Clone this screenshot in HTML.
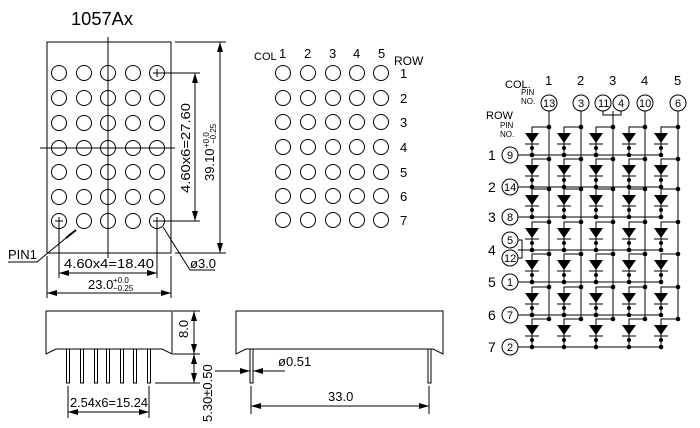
<!DOCTYPE html>
<html><head><meta charset="utf-8"><style>
html,body{margin:0;padding:0;background:#fff;}
svg{display:block;}
text{font-family:"Liberation Sans",sans-serif;fill:#000;}
</style></head><body>
<svg id="s" width="700" height="428" viewBox="0 0 700 428" xmlns="http://www.w3.org/2000/svg" stroke="#000" fill="none" stroke-width="1">
<defs>
<marker id="a" viewBox="0 0 10 6" refX="10" refY="3" markerWidth="10" markerHeight="6" orient="auto-start-reverse" markerUnits="userSpaceOnUse"><path d="M0,0 L10,3 L0,6z" fill="#000" stroke="none"/></marker>
</defs>
<g id="g"></g>
<!-- front view -->
<rect x="47" y="42" width="124" height="211"/>
<line x1="108" y1="37" x2="108" y2="258"/>
<line x1="40" y1="148" x2="175" y2="148"/>
<line x1="160" y1="73" x2="200" y2="73"/><line x1="160" y1="221" x2="200" y2="221"/>
<line x1="195" y1="73" x2="195" y2="221" marker-start="url(#a)" marker-end="url(#a)"/>
<line x1="175" y1="42" x2="226" y2="42"/><line x1="175" y1="253" x2="226" y2="253"/>
<line x1="220" y1="42" x2="220" y2="253" marker-start="url(#a)" marker-end="url(#a)"/>
<line x1="59" y1="225" x2="59" y2="278"/><line x1="157" y1="225" x2="157" y2="278"/>
<line x1="59" y1="273" x2="157" y2="273" marker-start="url(#a)" marker-end="url(#a)"/>
<line x1="47" y1="256" x2="47" y2="298"/><line x1="171" y1="256" x2="171" y2="298"/>
<line x1="47" y1="293" x2="171" y2="293" marker-start="url(#a)" marker-end="url(#a)"/>
<polyline points="8,262 37,262 72,233"/>
<line x1="66" y1="238" x2="76" y2="230" stroke-width="2"/>
<polyline points="163,227 190,270 215,270"/>
<g stroke="none" font-size="12">
<text x="71" y="25" font-size="18" textLength="62" lengthAdjust="spacingAndGlyphs">1057Ax</text>
<text x="64" y="268" font-size="13" textLength="90" lengthAdjust="spacingAndGlyphs">4.60x4=18.40</text>
<text x="88" y="289" font-size="13">23.0</text><text x="113" y="283" font-size="8">+0.0</text><text x="113" y="291" font-size="8">−0.25</text>
<text x="8" y="259" font-size="13">PIN1</text>
<text x="190" y="268" font-size="13">ø3.0</text>
<text transform="translate(190,193) rotate(-90)" font-size="13" textLength="90" lengthAdjust="spacingAndGlyphs">4.60x6=27.60</text>
<text transform="translate(214,181) rotate(-90)" font-size="13">39.10</text>
<text transform="translate(209,148) rotate(-90)" font-size="8">+0.0</text>
<text transform="translate(216,144) rotate(-90)" font-size="8">−0.25</text>
<!-- middle -->
<text x="254" y="60" font-size="11">COL</text>
<text x="279" y="58" font-size="13">1</text><text x="304" y="58" font-size="13">2</text><text x="329" y="58" font-size="13">3</text><text x="353" y="58" font-size="13">4</text><text x="378" y="58" font-size="13">5</text>
<text x="394" y="65" font-size="12">ROW</text>
<g font-size="13">
<text x="400" y="78">1</text><text x="400" y="103">2</text><text x="400" y="127">3</text><text x="400" y="152">4</text><text x="400" y="177">5</text><text x="400" y="201">6</text><text x="400" y="225">7</text>
</g>
<!-- schematic labels -->
<text x="505" y="88" font-size="11">COL.</text>
<text x="521" y="95" font-size="8">PIN</text><text x="521" y="104" font-size="8">NO.</text>
<g font-size="13">
<text x="545" y="85">1</text><text x="577" y="85">2</text><text x="609" y="85">3</text><text x="641" y="85">4</text><text x="674" y="85">5</text>
</g>
<text x="486" y="119" font-size="11">ROW</text>
<text x="500" y="128" font-size="8">PIN</text><text x="500" y="137" font-size="8">NO.</text>
<g font-size="14">
<text x="488" y="160">1</text><text x="488" y="192">2</text><text x="488" y="222">3</text><text x="488" y="255">4</text><text x="488" y="287">5</text><text x="488" y="320">6</text><text x="488" y="352">7</text>
</g>
<g font-size="11">
<text x="543" y="107">13</text><text x="578" y="107">3</text><text x="598" y="107">11</text><text x="618" y="107">4</text><text x="639" y="107">10</text><text x="675" y="107">6</text>
<text x="507" y="159">9</text><text x="504" y="191">14</text><text x="507" y="221">8</text><text x="507" y="244">5</text><text x="504" y="262">12</text><text x="507" y="286">1</text><text x="507" y="319">7</text><text x="507" y="351">2</text>
</g>
<!-- bottom -->
<text transform="translate(188,338) rotate(-90)" font-size="13">8.0</text>
<text transform="translate(212,422) rotate(-90)" font-size="13">5.30±0.50</text>
<text x="70" y="407" font-size="13" textLength="78" lengthAdjust="spacingAndGlyphs">2.54x6=15.24</text>
<text x="278" y="366" font-size="13">ø0.51</text>
<text x="328" y="401" font-size="13">33.0</text>
</g>
<!-- side views -->
<path d="M46,311 H172 V354 L162,349 H56 L46,354 Z"/>
<line x1="173" y1="311" x2="200" y2="311"/><line x1="173" y1="354" x2="200" y2="354"/>
<line x1="194" y1="311" x2="194" y2="354" marker-start="url(#a)" marker-end="url(#a)"/>
<line x1="155" y1="383" x2="200" y2="383"/>
<line x1="194" y1="354" x2="194" y2="383" marker-start="url(#a)" marker-end="url(#a)"/>
<line x1="68" y1="386" x2="68" y2="418"/><line x1="149" y1="386" x2="149" y2="418"/>
<line x1="68" y1="412" x2="149" y2="412" marker-start="url(#a)" marker-end="url(#a)"/>
<path d="M236,311 H443 V354 L433,349 H246 L236,354 Z"/>
<rect x="250" y="349" width="3" height="34"/><rect x="428" y="349" width="3" height="34"/>
<line x1="215" y1="371" x2="250" y2="371" marker-end="url(#a)"/>
<line x1="253" y1="371" x2="285" y2="371" marker-start="url(#a)"/>
<line x1="251" y1="386" x2="251" y2="414"/><line x1="429" y1="386" x2="429" y2="414"/>
<line x1="251" y1="406" x2="429" y2="406" marker-start="url(#a)" marker-end="url(#a)"/>
</svg>
<script>
var g=document.getElementById('g'),NS='http://www.w3.org/2000/svg';
function el(t,a){var e=document.createElementNS(NS,t);for(var k in a)e.setAttribute(k,a[k]);g.appendChild(e);return e;}
var fx=[59,84,108,133,157],fy=[73,98,123,148,172,197,221];
fx.forEach(function(x){fy.forEach(function(y){el('circle',{cx:x,cy:y,r:7.5});});});
[[59,221],[157,221],[157,73]].forEach(function(p){el('path',{d:'M'+(p[0]-4)+','+p[1]+'h8M'+p[0]+','+(p[1]-4)+'v8'});});
var mx=[283,308,333,357,381],my=[73,98,122,147,172,196,220];
mx.forEach(function(x){my.forEach(function(y){el('circle',{cx:x,cy:y,r:7.5});});});
[68,82,96,108,122,135,149].forEach(function(x){el('rect',{x:x-1.5,y:349,width:3,height:34});});
var cx=[549,581,613,645,678],dx=[532,564,596,629,661],ry=[155,187,217,250,282,315,347];
cx.forEach(function(x,i){el('line',{x1:x,y1:111,x2:x,y2:ry[6]-28});});
ry.forEach(function(R,j){
 var top=R-28;
 el('line',{x1:518,y1:R,x2:661,y2:R});
 for(var i=0;i<5;i++){
  var x=dx[i];
  el('polyline',{points:cx[i]+','+top+' '+x+','+top+' '+x+','+R});
  el('path',{d:'M'+(x-7)+','+(R-22)+'h14l-7,10z',fill:'#000',stroke:'none'});
  el('line',{x1:x-7,y1:R-11,x2:x+7,y2:R-11});
  el('circle',{cx:cx[i],cy:top,r:2.3,fill:'#000',stroke:'none'});
  el('circle',{cx:x,cy:R,r:2.3,fill:'#000',stroke:'none'});
  el('circle',{cx:x,cy:R-7,r:2,fill:'#000',stroke:'none'});
 }
});
[[549,103],[581,103],[603,103],[621,103],[645,103],[678,103]].forEach(function(p){el('circle',{cx:p[0],cy:p[1],r:8});});
el('polyline',{points:'603,111 603,115 621,115 621,111'});
[[510,155],[510,187],[510,217],[510,240],[510,258],[510,282],[510,315],[510,347]].forEach(function(p){el('circle',{cx:p[0],cy:p[1],r:8});});
el('polyline',{points:'518,240 522,240 522,258 518,258'});
</script>
</body></html>
